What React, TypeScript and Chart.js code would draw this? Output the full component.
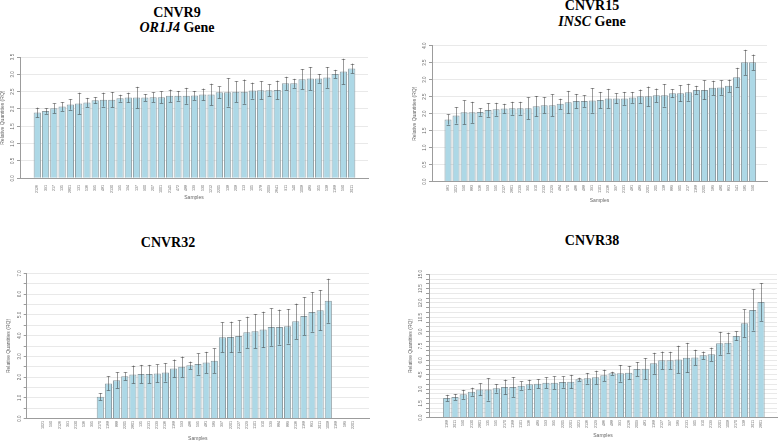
import React, { useEffect, useRef } from 'react';
import { Chart, registerables } from 'chart.js';

Chart.register(...registerables);

// ---------- DATA ----------
const cnvr9Samples = ['2126', '391', '217', '135', '2801', '131', '536', '395', '481', '2130', '195', '194', '137', '900', '207', '1001', '2145', '472', '488', '139', '530', '1212', '2205', '138', '208', '113', '105', '278', '2009', '2641', '911', '140', '1008', '489', '355', '538', '1168', '590', '2011'];
const cnvr9Values = [1.90, 1.94, 2.02, 2.07, 2.13, 2.16, 2.19, 2.25, 2.27, 2.27, 2.31, 2.33, 2.33, 2.33, 2.34, 2.34, 2.38, 2.38, 2.38, 2.39, 2.42, 2.42, 2.48, 2.48, 2.50, 2.50, 2.53, 2.54, 2.54, 2.55, 2.74, 2.74, 2.86, 2.88, 2.88, 2.91, 3.01, 3.08, 3.17];
const cnvr9Errors = [0.14, 0.08, 0.14, 0.125, 0.15, 0.31, 0.13, 0.09, 0.2, 0.22, 0.1, 0.14, 0.31, 0.1, 0.14, 0.17, 0.18, 0.14, 0.23, 0.13, 0.17, 0.31, 0.17, 0.41, 0.3, 0.35, 0.23, 0.26, 0.17, 0.27, 0.19, 0.13, 0.29, 0.33, 0.125, 0.3, 0.12, 0.37, 0.14];

const cnvr15Samples = ['961', '1021', '590', '883', '536', '593', '595', '2127', '2801', '2139', '395', '910', '2132', '2129', '484', '570', '486', '488', '391', '1101', '2136', '397', '2131', '481', '489', '2201', '205', '138', '889', '905', '217', '1168', '2205', '589', '480', '891', '541', '585', '590'];
const cnvr15Values = [1.83, 1.95, 2.04, 2.04, 2.05, 2.11, 2.13, 2.15, 2.16, 2.16, 2.16, 2.22, 2.25, 2.25, 2.29, 2.34, 2.37, 2.37, 2.39, 2.40, 2.45, 2.45, 2.45, 2.48, 2.51, 2.51, 2.54, 2.54, 2.60, 2.60, 2.63, 2.70, 2.70, 2.76, 2.77, 2.82, 3.07, 3.51, 3.51];
const cnvr15Errors = [0.15, 0.24, 0.35, 0.31, 0.11, 0.2, 0.19, 0.14, 0.19, 0.19, 0.32, 0.3, 0.235, 0.32, 0.15, 0.33, 0.21, 0.17, 0.36, 0.24, 0.28, 0.15, 0.19, 0.16, 0.2, 0.29, 0.2, 0.33, 0.12, 0.24, 0.25, 0.12, 0.28, 0.21, 0.21, 0.18, 0.28, 0.37, 0.23];

const cnvr32Samples = ['1021', '590', '2126', '391', '2130', '536', '395', '2170', '1168', '888', '2205', '2801', '135', '2131', '2139', '2136', '1168', '593', '486', '595', '481', '589', '397', '2201', '2127', '2129', '1101', '910', '539', '884', '889', '2136', '1168', '891', '2011', '1008', '1168', '589', '2201'];
const cnvr32Values = [null, null, null, null, null, null, null, 1.06, 1.70, 1.85, 2.04, 2.13, 2.15, 2.15, 2.18, 2.23, 2.42, 2.50, 2.57, 2.63, 2.71, 2.79, 3.92, 3.93, 3.98, 4.16, 4.21, 4.29, 4.41, 4.41, 4.45, 4.69, 4.94, 5.14, 5.22, 5.68, null, null, null];
const cnvr32Errors = [null, null, null, null, null, null, null, 0.17, 0.34, 0.385, 0.19, 0.43, 0.44, 0.44, 0.43, 0.44, 0.43, 0.49, 0.18, 0.51, 0.51, 0.59, 0.72, 0.74, 0.75, 0.75, 0.82, 0.86, 0.9, 0.84, 0.83, 0.85, 0.91, 0.95, 0.97, 1.06, null, null, null];

const cnvr38Samples = ['1168', '2011', '590', '2130', '2801', '135', '595', '2170', '1168', '1101', '536', '489', '593', '395', '2205', '2201', '1021', '2136', '2129', '486', '488', '391', '2126', '2009', '481', '1168', '2127', '397', '589', '2131', '905', '910', '2139', '2201', '1008', '2170', '538', '2011', '2801'];
const cnvr38Values = [2.06, 2.16, 2.44, 2.72, 2.96, 2.96, 3.07, 3.21, 3.21, 3.35, 3.49, 3.56, 3.66, 3.66, 3.73, 3.77, 4.01, 4.12, 4.22, 4.43, 4.64, 4.64, 4.71, 5.09, 5.13, 5.69, 6.0, 6.0, 6.1, 6.28, 6.31, 6.52, 6.63, 7.78, 7.85, 8.55, 9.87, 11.27, 12.1];
const cnvr38Errors = [0.33, 0.31, 0.47, 0.42, 0.63, 1.17, 0.44, 0.78, 1.03, 0.44, 0.47, 0.47, 0.56, 0.66, 0.59, 0.71, 0.17, 0.56, 0.7, 0.59, 0.17, 0.87, 0.7, 0.73, 1.1, 1.1, 0.92, 0.9, 1.43, 1.55, 0.8, 0.4, 0.7, 1.2, 1.05, 0.47, 1.45, 2.15, 1.97];

const yAxisTitle = 'Relative Quantities (RQ)';
const xAxisTitle = 'Samples';

// ---------- RENDERING ----------
const SANS = "'Liberation Sans', Arial, sans-serif";
const SERIF = "'Liberation Serif', 'Times New Roman', serif";

type PanelCfg = {
  labels: string[];
  values: (number | null)[];
  errors: (number | null)[];
  yMax: number;
  labelEvery: number;
  xMin: number;
  xMax: number;
  box: { left: number; top: number; width: number; height: number };
  padTop: number;
  padRight: number;
  yWidth: number;
  xHeight: number;
  yTitlePad: number;
  yTickPad: number;
  xTitlePad: number;
  xTickPad: number;
};

function makeErrorPlugin(errors: (number | null)[]) {
  return {
    id: 'errbars',
    afterDatasetsDraw(chart: any) {
      const meta = chart.getDatasetMeta(0);
      const ys = chart.scales.y;
      const ctx = chart.ctx;
      const ds = chart.data.datasets[0].data as any[];
      ctx.save();
      ctx.strokeStyle = 'rgba(55,55,55,0.5)';
      ctx.lineWidth = 1;
      meta.data.forEach((bar: any, i: number) => {
        const pt = ds[i];
        const e = errors[pt.x];
        if (e == null) return;
        const x = Math.round(bar.x) + 0.5;
        const yt = ys.getPixelForValue(pt.y + e);
        const yb = ys.getPixelForValue(pt.y - e);
        ctx.beginPath();
        ctx.moveTo(x, yt);
        ctx.lineTo(x, yb);
        ctx.moveTo(x - 1.8, Math.round(yt) + 0.5);
        ctx.lineTo(x + 1.8, Math.round(yt) + 0.5);
        ctx.moveTo(x - 1.8, Math.round(yb) + 0.5);
        ctx.lineTo(x + 1.8, Math.round(yb) + 0.5);
        ctx.stroke();
      });
      ctx.restore();
    },
  };
}

function BarPanel({ cfg }: { cfg: PanelCfg }) {
  const ref = useRef<HTMLCanvasElement | null>(null);
  useEffect(() => {
    if (!ref.current) return;
    const points = cfg.values
      .map((v, i) => (v == null ? null : { x: i, y: v }))
      .filter((p) => p !== null) as { x: number; y: number }[];
    const chart = new Chart(ref.current, {
      type: 'bar',
      data: {
        datasets: [
          {
            data: points as any,
            backgroundColor: '#add8e6',
            borderColor: '#8d9da3',
            borderWidth: 1,
            barPercentage: 0.88,
            categoryPercentage: 1,
          },
        ],
      },
      options: {
        responsive: false,
        animation: false,
        devicePixelRatio: 1,
        layout: { padding: { top: cfg.padTop, right: cfg.padRight, left: 0, bottom: 0 } },
        plugins: { legend: { display: false }, tooltip: { enabled: false }, title: { display: false } },
        scales: {
          x: {
            type: 'linear',
            min: cfg.xMin,
            max: cfg.xMax,
            offset: false,
            grid: { display: false, drawTicks: false },
            border: { display: true, color: '#9c9c9c' },
            ticks: {
              autoSkip: false,
              minRotation: 90,
              maxRotation: 90,
              padding: cfg.xTickPad,
              color: '#666',
              font: { size: 3.6, family: SANS },
              callback: (v: any) => cfg.labels[v as number] ?? '',
            },
            afterBuildTicks: (s: any) => {
              s.ticks = cfg.labels.map((_, i) => ({ value: i }));
            },
            afterFit: (s: any) => {
              s.height = cfg.xHeight;
            },
            title: {
              display: true,
              text: xAxisTitle,
              color: '#666',
              font: { size: 5, family: SANS },
              padding: { top: 0, bottom: cfg.xTitlePad },
            },
          } as any,
          y: {
            min: 0,
            max: cfg.yMax,
            grid: { color: '#e9e9e9', tickColor: '#9c9c9c', tickLength: 3 },
            border: { display: true, color: '#9c9c9c' },
            ticks: {
              stepSize: 0.5,
              autoSkip: false,
              minRotation: 90,
              maxRotation: 90,
              crossAlign: 'center',
              padding: cfg.yTickPad,
              color: '#666',
              font: { size: 4.5, family: SANS },
              callback: (v: any) => {
                const q = (v as number) / cfg.labelEvery;
                return Math.abs(q - Math.round(q)) < 1e-6 ? (v as number).toFixed(1) : '';
              },
            },
            afterFit: (s: any) => {
              s.width = cfg.yWidth;
            },
            title: {
              display: true,
              text: yAxisTitle,
              color: '#666',
              font: { size: 5, family: SANS },
              padding: { top: cfg.yTitlePad, bottom: 0 },
            },
          } as any,
        },
      },
      plugins: [makeErrorPlugin(cfg.errors)],
    });
    return () => chart.destroy();
  }, [cfg]);
  const b = cfg.box;
  return (
    <canvas
      ref={ref}
      width={b.width}
      height={b.height}
      style={{ position: 'absolute', left: b.left, top: b.top, width: b.width, height: b.height }}
    />
  );
}

function Title({ cx, cy, children }: { cx: number; cy: number; children: React.ReactNode }) {
  return (
    <div
      style={{
        position: 'absolute',
        left: cx - 100,
        top: cy - 7,
        width: 200,
        textAlign: 'center',
        fontFamily: SERIF,
        fontWeight: 'bold',
        fontSize: 14,
        lineHeight: '14px',
        color: '#000',
        whiteSpace: 'nowrap',
      }}
    >
      {children}
    </div>
  );
}

const panel1: PanelCfg = {
  labels: cnvr9Samples, values: cnvr9Values, errors: cnvr9Errors, yMax: 3.5, labelEvery: 0.5,
  xMin: -2.09, xMax: 39.97,
  box: { left: 0, top: 40, width: 378, height: 165 },
  padTop: 17, padRight: 10, yWidth: 20, xHeight: 26.7, yTitlePad: 0, yTickPad: 1.2, xTitlePad: 4, xTickPad: 6.7,
};
const panel2: PanelCfg = {
  labels: cnvr15Samples, values: cnvr15Values, errors: cnvr15Errors, yMax: 4.0, labelEvery: 0.5,
  xMin: -2.0, xMax: 39.8,
  box: { left: 405, top: 30, width: 372, height: 176 },
  padTop: 15.7, padRight: 10, yWidth: 27, xHeight: 24.3, yTitlePad: 7, yTickPad: 0.9, xTitlePad: 2, xTickPad: 3.3,
};
const panel3: PanelCfg = {
  labels: cnvr32Samples, values: cnvr32Values, errors: cnvr32Errors, yMax: 7.0, labelEvery: 1.0,
  xMin: -2.04, xMax: 40.0,
  box: { left: 0, top: 255, width: 380, height: 187 },
  padTop: 18.3, padRight: 11, yWidth: 26.7, xHeight: 23.3, yTitlePad: 5.3, yTickPad: 0.6, xTitlePad: 0, xTickPad: 2.3,
};
const panel4: PanelCfg = {
  labels: cnvr38Samples, values: cnvr38Values, errors: cnvr38Errors, yMax: 15.0, labelEvery: 1.5,
  xMin: -2.14, xMax: 39.93,
  box: { left: 400, top: 255, width: 378, height: 187 },
  padTop: 19.3, padRight: 1, yWidth: 29, xHeight: 24.3, yTitlePad: 8, yTickPad: 0.6, xTitlePad: 3, xTickPad: 2.3,
};

export default function App() {
  return (
    <div style={{ position: 'absolute', left: 0, top: 0, width: 778, height: 442, background: '#fff', overflow: 'hidden' }}>
      <Title cx={177} cy={13}>CNVR9</Title>
      <Title cx={177} cy={28}>
        <i>OR1J4</i> Gene
      </Title>
      <Title cx={592} cy={6}>CNVR15</Title>
      <Title cx={592} cy={22}>
        <i>INSC</i> Gene
      </Title>
      <Title cx={168} cy={243}>CNVR32</Title>
      <Title cx={592} cy={241}>CNVR38</Title>
      <BarPanel cfg={panel1} />
      <BarPanel cfg={panel2} />
      <BarPanel cfg={panel3} />
      <BarPanel cfg={panel4} />
    </div>
  );
}
